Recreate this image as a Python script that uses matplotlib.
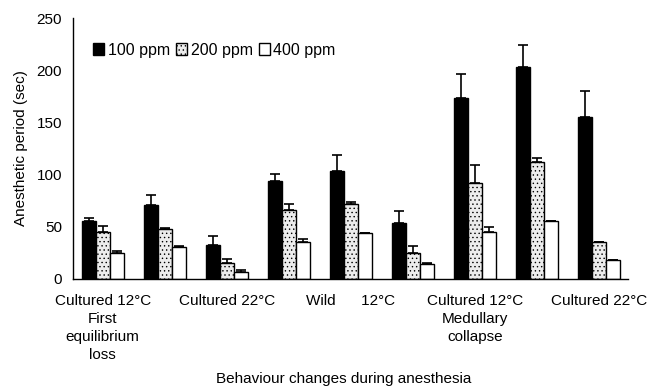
import numpy as np
import matplotlib
matplotlib.use("Agg")
import matplotlib.pyplot as plt

plt.rcParams["font.family"] = ["Liberation Sans", "DejaVu Sans"]
plt.rcParams["hatch.color"] = "#a8a8a8"
plt.rcParams["hatch.linewidth"] = 0.5

# 数据：9 组，每组 3 个浓度
ppm100 = [56, 71, 33, 94, 103, 54, 173, 203, 155]
ppm200 = [45, 48, 15, 66, 72, 25, 92, 112, 35]
ppm400 = [25, 31, 6.5, 35, 44, 14, 45, 56, 18]
err100 = [2, 9, 8, 7, 16, 11, 23, 21, 25]
err200 = [6, 1, 4, 6, 2, 7, 17, 4, 0]
err400 = [2, 1, 2.5, 3, 0, 1.5, 5, 0, 0]
tick_pos = [0, 2, 4, 6, 8]
tick_labels = ["Cultured 12°C\nFirst\nequilibrium\nloss", "Cultured 22°C",
               "Wild      12°C", "Cultured 12°C\nMedullary\ncollapse", "Cultured 22°C"]

fig = plt.figure(figsize=(6.49, 3.88), dpi=100)
ax = fig.add_axes([0.1125, 0.281, 0.855, 0.6726])

x = np.arange(len(ppm100))
w = 0.226
ekw = dict(elinewidth=1.2, capthick=1.2, ecolor="black")

ax.bar(x - w, ppm100, w, color="black", edgecolor="black", label="100 ppm",
       yerr=[np.zeros(9), err100], capsize=3.5, error_kw=ekw)
ax.bar(x, ppm200, w, color="#ececec", edgecolor="black", hatch="....", linewidth=1,
       label="200 ppm", yerr=[np.zeros(9), err200], capsize=3.5, error_kw=ekw)
ax.bar(x + w, ppm400, w, color="white", edgecolor="black", linewidth=1, label="400 ppm",
       yerr=[np.zeros(9), err400], capsize=3.5, error_kw=ekw)

ax.set_xlim(-0.48, 8.47)
ax.set_ylim(0, 250)
ax.set_yticks([0, 50, 100, 150, 200, 250])
ax.set_xticks(tick_pos)
ax.set_xticklabels(tick_labels, fontsize=11, linespacing=1.35)
ax.tick_params(axis="x", length=0, pad=11)
ax.tick_params(axis="y", length=0, labelsize=11, pad=8)

ax.spines["top"].set_visible(False)
ax.spines["right"].set_visible(False)
ax.spines["left"].set_linewidth(1)
ax.spines["bottom"].set_linewidth(1)

ax.set_ylabel("Anesthetic period (sec)", fontsize=11, labelpad=6)
fig.text(0.53, 0.012, "Behaviour changes during anesthesia", ha="center", fontsize=11)

ax.legend(ncol=3, loc="upper left", bbox_to_anchor=(0.025, 0.93), frameon=False,
          fontsize=11.5, handlelength=0.7, handleheight=0.7, handletextpad=0.2,
          columnspacing=0.4, borderaxespad=0)

fig.savefig("out.png", dpi=100)
